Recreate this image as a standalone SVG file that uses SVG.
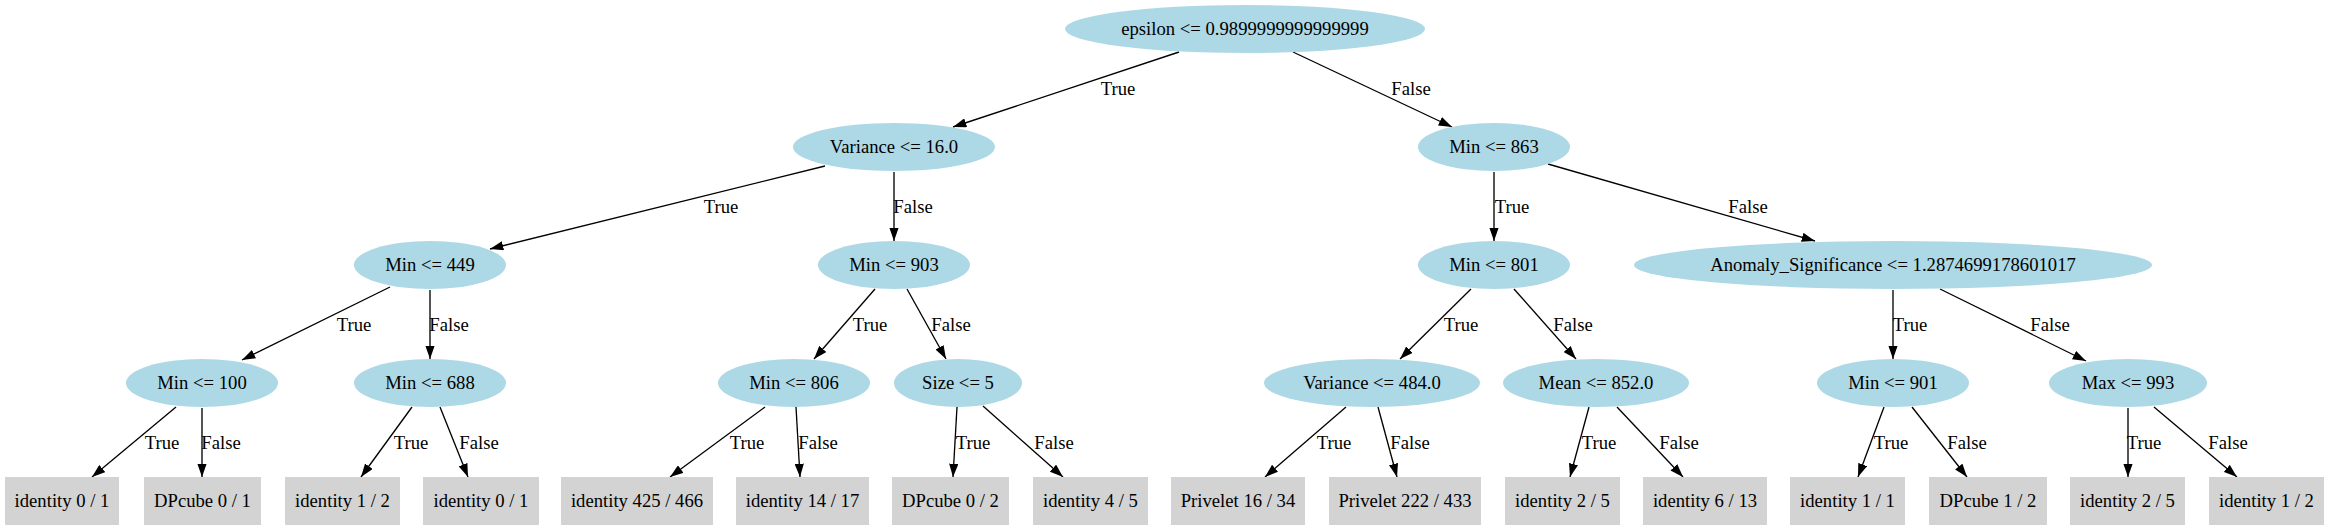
<svg xmlns="http://www.w3.org/2000/svg" width="2329" height="531" viewBox="0 0 2329 531">
<defs>
<style>
.n ellipse{fill:#add8e6;stroke:none}
.l rect{fill:#d3d3d3;stroke:none}
text{font-family:"Liberation Serif","Times New Roman",serif;font-size:18.67px;fill:#000;text-anchor:middle}
#edges line{stroke:#000;stroke-width:1.33;marker-end:url(#arr)}
</style>
<marker id="arr" viewBox="0 0 13.33 9.33" refX="13.33" refY="4.67" markerWidth="13.33" markerHeight="9.33" markerUnits="userSpaceOnUse" orient="auto">
<path d="M0,0 L13.33,4.67 L0,9.33 Z" fill="#000"/>
</marker>
</defs>
<rect x="0" y="0" width="2329" height="531" fill="#fff"/>
<g id="edges">
<line x1="1179" y1="52" x2="953" y2="127"/>
<text x="1118" y="95">True</text>
<line x1="1293" y1="52" x2="1452" y2="127"/>
<text x="1411" y="95">False</text>
<line x1="825" y1="166" x2="490" y2="249"/>
<text x="721" y="213">True</text>
<line x1="894" y1="172" x2="894" y2="241"/>
<text x="913" y="213">False</text>
<line x1="1494" y1="172" x2="1494" y2="241"/>
<text x="1512" y="213">True</text>
<line x1="1548" y1="164" x2="1815" y2="241"/>
<text x="1748" y="213">False</text>
<line x1="390" y1="287" x2="242" y2="360"/>
<text x="354" y="331">True</text>
<line x1="430" y1="290" x2="430" y2="359"/>
<text x="449" y="331">False</text>
<line x1="875" y1="289" x2="814" y2="359"/>
<text x="870" y="331">True</text>
<line x1="907" y1="289" x2="946" y2="359"/>
<text x="951" y="331">False</text>
<line x1="1471" y1="289" x2="1400" y2="359"/>
<text x="1461" y="331">True</text>
<line x1="1514" y1="289" x2="1576" y2="359"/>
<text x="1573" y="331">False</text>
<line x1="1893" y1="290" x2="1893" y2="359"/>
<text x="1910" y="331">True</text>
<line x1="1940" y1="289" x2="2086" y2="361"/>
<text x="2050" y="331">False</text>
<line x1="176" y1="407" x2="92" y2="477"/>
<text x="162" y="449">True</text>
<line x1="202" y1="408" x2="202" y2="477"/>
<text x="221" y="449">False</text>
<line x1="412" y1="407" x2="361" y2="477"/>
<text x="411" y="449">True</text>
<line x1="440" y1="407" x2="468" y2="477"/>
<text x="479" y="449">False</text>
<line x1="765" y1="407" x2="670" y2="477"/>
<text x="747" y="449">True</text>
<line x1="796" y1="407" x2="800" y2="477"/>
<text x="818" y="449">False</text>
<line x1="957" y1="407" x2="953" y2="477"/>
<text x="973" y="449">True</text>
<line x1="983" y1="406" x2="1063" y2="477"/>
<text x="1054" y="449">False</text>
<line x1="1346" y1="407" x2="1265" y2="477"/>
<text x="1334" y="449">True</text>
<line x1="1378" y1="407" x2="1397" y2="477"/>
<text x="1410" y="449">False</text>
<line x1="1589" y1="407" x2="1570" y2="477"/>
<text x="1599" y="449">True</text>
<line x1="1617" y1="407" x2="1683" y2="477"/>
<text x="1679" y="449">False</text>
<line x1="1884" y1="407" x2="1858" y2="477"/>
<text x="1891" y="449">True</text>
<line x1="1912" y1="407" x2="1967" y2="477"/>
<text x="1967" y="449">False</text>
<line x1="2128" y1="408" x2="2128" y2="477"/>
<text x="2144" y="449">True</text>
<line x1="2154" y1="407" x2="2237" y2="477"/>
<text x="2228" y="449">False</text>
</g>
<g id="n0" class="n"><ellipse cx="1245" cy="29" rx="180" ry="24"/><text x="1245" y="35">epsilon &lt;= 0.9899999999999999</text></g>
<g id="n1" class="n"><ellipse cx="894" cy="147" rx="101" ry="24"/><text x="894" y="153">Variance &lt;= 16.0</text></g>
<g id="n2" class="n"><ellipse cx="1494" cy="147" rx="76" ry="24"/><text x="1494" y="153">Min &lt;= 863</text></g>
<g id="n3" class="n"><ellipse cx="430" cy="265" rx="76" ry="24"/><text x="430" y="271">Min &lt;= 449</text></g>
<g id="n4" class="n"><ellipse cx="894" cy="265" rx="76" ry="24"/><text x="894" y="271">Min &lt;= 903</text></g>
<g id="n5" class="n"><ellipse cx="1494" cy="265" rx="76" ry="24"/><text x="1494" y="271">Min &lt;= 801</text></g>
<g id="n6" class="n"><ellipse cx="1893" cy="265" rx="259" ry="24"/><text x="1893" y="271">Anomaly_Significance &lt;= 1.2874699178601017</text></g>
<g id="n7" class="n"><ellipse cx="202" cy="383" rx="76" ry="24"/><text x="202" y="389">Min &lt;= 100</text></g>
<g id="n8" class="n"><ellipse cx="430" cy="383" rx="76" ry="24"/><text x="430" y="389">Min &lt;= 688</text></g>
<g id="n9" class="n"><ellipse cx="794" cy="383" rx="76" ry="24"/><text x="794" y="389">Min &lt;= 806</text></g>
<g id="n10" class="n"><ellipse cx="958" cy="383" rx="64" ry="24"/><text x="958" y="389">Size &lt;= 5</text></g>
<g id="n11" class="n"><ellipse cx="1372" cy="383" rx="108" ry="24"/><text x="1372" y="389">Variance &lt;= 484.0</text></g>
<g id="n12" class="n"><ellipse cx="1596" cy="383" rx="93" ry="24"/><text x="1596" y="389">Mean &lt;= 852.0</text></g>
<g id="n13" class="n"><ellipse cx="1893" cy="383" rx="76" ry="24"/><text x="1893" y="389">Min &lt;= 901</text></g>
<g id="n14" class="n"><ellipse cx="2128" cy="383" rx="79" ry="24"/><text x="2128" y="389">Max &lt;= 993</text></g>
<g id="l0" class="l"><rect x="5" y="477" width="114" height="48"/><text x="62" y="507">identity 0 / 1</text></g>
<g id="l1" class="l"><rect x="144" y="477" width="117" height="48"/><text x="202.5" y="507">DPcube 0 / 1</text></g>
<g id="l2" class="l"><rect x="285" y="477" width="115" height="48"/><text x="342.5" y="507">identity 1 / 2</text></g>
<g id="l3" class="l"><rect x="423" y="477" width="116" height="48"/><text x="481" y="507">identity 0 / 1</text></g>
<g id="l4" class="l"><rect x="561" y="477" width="152" height="48"/><text x="637" y="507">identity 425 / 466</text></g>
<g id="l5" class="l"><rect x="736" y="477" width="133" height="48"/><text x="802.5" y="507">identity 14 / 17</text></g>
<g id="l6" class="l"><rect x="892" y="477" width="117" height="48"/><text x="950.5" y="507">DPcube 0 / 2</text></g>
<g id="l7" class="l"><rect x="1033" y="477" width="115" height="48"/><text x="1090.5" y="507">identity 4 / 5</text></g>
<g id="l8" class="l"><rect x="1171" y="477" width="134" height="48"/><text x="1238" y="507">Privelet 16 / 34</text></g>
<g id="l9" class="l"><rect x="1329" y="477" width="152" height="48"/><text x="1405" y="507">Privelet 222 / 433</text></g>
<g id="l10" class="l"><rect x="1505" y="477" width="115" height="48"/><text x="1562.5" y="507">identity 2 / 5</text></g>
<g id="l11" class="l"><rect x="1643" y="477" width="124" height="48"/><text x="1705" y="507">identity 6 / 13</text></g>
<g id="l12" class="l"><rect x="1790" y="477" width="115" height="48"/><text x="1847.5" y="507">identity 1 / 1</text></g>
<g id="l13" class="l"><rect x="1929" y="477" width="118" height="48"/><text x="1988" y="507">DPcube 1 / 2</text></g>
<g id="l14" class="l"><rect x="2070" y="477" width="115" height="48"/><text x="2127.5" y="507">identity 2 / 5</text></g>
<g id="l15" class="l"><rect x="2209" y="477" width="115" height="48"/><text x="2266.5" y="507">identity 1 / 2</text></g>
</svg>
